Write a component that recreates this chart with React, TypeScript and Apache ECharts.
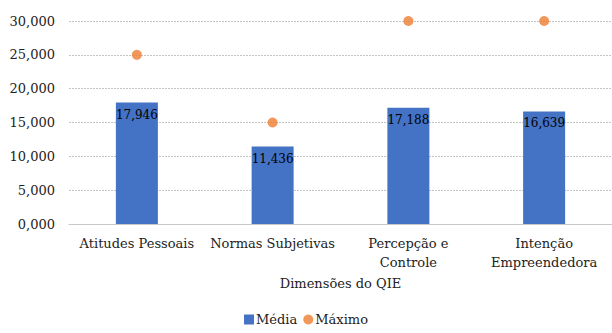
import React, { useEffect, useRef } from "react";
import * as echarts from "echarts";

const categories = [
  "Atitudes Pessoais",
  "Normas Subjetivas",
  "Percepção e\nControle",
  "Intenção\nEmpreendedora",
];
const mediaValues = [17.946, 11.436, 17.188, 16.639];
const maximoValues = [25, 15, 30, 30];
const axisName = "Dimensões do QIE";

const FONT = "DejaVu Serif";
const fmt = (v: number) => v.toFixed(3).replace(".", ",");

export default function App() {
  const ref = useRef<HTMLDivElement>(null);

  useEffect(() => {
    if (!ref.current) return;
    const chart = echarts.init(ref.current, undefined, { renderer: "svg" });
    chart.setOption({
      animation: false,
      textStyle: { fontFamily: FONT },
      grid: { left: 69, right: 0, top: 21, bottom: 109, containLabel: false },
      legend: {
        bottom: 2,
        left: "center",
        itemGap: 6,
        itemWidth: 10,
        itemHeight: 10,
        textStyle: { fontFamily: FONT, fontSize: 13, color: "#222", padding: [0, 0, 0, -3] },
        data: [
          { name: "Média", icon: "rect" },
          { name: "Máximo", icon: "circle" },
        ],
      },
      xAxis: {
        type: "category",
        data: categories,
        name: axisName,
        nameLocation: "middle",
        nameGap: 51,
        nameTextStyle: { fontFamily: FONT, fontSize: 13, color: "#222" },
        axisTick: { show: false },
        axisLine: { lineStyle: { color: "#c8c8c8", width: 1 } },
        axisLabel: {
          fontFamily: FONT,
          fontSize: 13,
          color: "#222",
          margin: 10,
          lineHeight: 19,
          interval: 0,
        },
      },
      yAxis: {
        type: "value",
        min: 0,
        max: 30,
        interval: 5,
        axisLine: { show: false },
        axisTick: { show: false },
        axisLabel: {
          fontFamily: FONT,
          fontSize: 13,
          color: "#222",
          margin: 14,
          formatter: (v: number) => fmt(v),
        },
        splitLine: { lineStyle: { color: "#c4c4c4", type: [2, 1], width: 1 } },
      },
      series: [
        {
          name: "Média",
          type: "bar",
          data: mediaValues,
          barWidth: 42,
          itemStyle: { color: "#4472C4" },
          label: {
            show: true,
            position: "insideTop",
            distance: 6,
            fontFamily: FONT,
            fontSize: 12,
            color: "#000",
            formatter: (p: any) => fmt(p.value),
          },
        },
        {
          name: "Máximo",
          type: "scatter",
          data: maximoValues,
          symbol: "circle",
          symbolSize: 10,
          itemStyle: { color: "#ED7D31" },
        },
      ],
    });
    return () => chart.dispose();
  }, []);

  return (
    <div
      ref={ref}
      style={{ position: "fixed", left: 0, top: 0, width: 612, height: 333, background: "#fff" }}
    />
  );
}
